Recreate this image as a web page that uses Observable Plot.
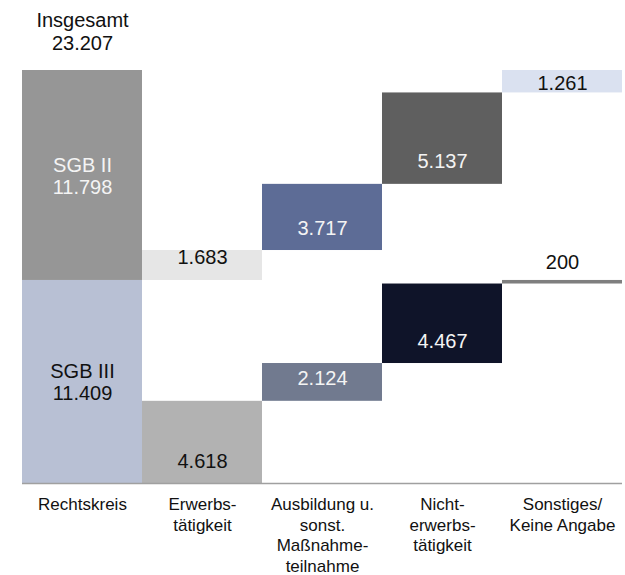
<!DOCTYPE html>
<html>
<head>
<meta charset="utf-8">
<script src="https://cdn.jsdelivr.net/npm/d3@7"></script>
<script src="https://cdn.jsdelivr.net/npm/@observablehq/plot@0.6"></script>
<style>
  html, body { margin: 0; padding: 0; background: #fff; }
  #chart svg { display: block; }
</style>
</head>
<body>
<div id="chart"></div>
<script>
// ---- data ----
const categories = ["Rechtskreis", "Erwerbstätigkeit", "Ausbildung", "Nichterwerbstätigkeit", "Sonstiges"];
const categoryLabels = ["Rechtskreis", "Erwerbs-\ntätigkeit", "Ausbildung u.\nsonst.\nMaßnahme-\nteilnahme", "Nicht-\nerwerbs-\ntätigkeit", "Sonstiges/\nKeine Angabe"];
const seriesNames = ["SGB II", "SGB III"];
const totalLabel = "Insgesamt";
const totalValue = 23207;
const sgb2Total = 11798;
const sgb3Total = 11409;
const sgb2Values = [1683, 3717, 5137, 1261];   // Erwerbs, Ausbildung, Nicht, Sonstiges
const sgb3Values = [4618, 2124, 4467, 200];

// ---- styles ----
const palette = {
  "SGB II": ["#969696", "#E6E6E6", "#5D6C96", "#5F5F5F", "#DAE1F0"],
  "SGB III": ["#B8C0D4", "#B2B2B2", "#717A8F", "#0F1429", "#7F7F7F"]
};
const textColor = {
  "SGB II": ["#F4F4F4", "#111", "#F4F4F4", "#F4F4F4", "#111"],
  "SGB III": ["#111", "#111", "#F4F4F4", "#F4F4F4", "#111"]
};
const fmt = d3.format(",d");
const de = v => fmt(v).replace(/,/g, ".");

// ---- build rows ----
const rows = [];
rows.push({cat: categories[0], series: seriesNames[1], y1: 0, y2: sgb3Total, value: sgb3Total, fill: palette["SGB III"][0], tc: textColor["SGB III"][0], kind: "center"});
rows.push({cat: categories[0], series: seriesNames[0], y1: sgb3Total, y2: sgb3Total + sgb2Total, value: sgb2Total, fill: palette["SGB II"][0], tc: textColor["SGB II"][0], kind: "center"});
const cum3 = [0, ...d3.cumsum(sgb3Values)];
const cum2 = [0, ...d3.cumsum(sgb2Values)];
sgb3Values.forEach((v, i) => rows.push({cat: categories[i + 1], series: "SGB III", y1: cum3[i], y2: cum3[i + 1], value: v, fill: palette["SGB III"][i + 1], tc: textColor["SGB III"][i + 1]}));
sgb2Values.forEach((v, i) => rows.push({cat: categories[i + 1], series: "SGB II", y1: sgb3Total + cum2[i], y2: sgb3Total + cum2[i + 1], value: v, fill: palette["SGB II"][i + 1], tc: textColor["SGB II"][i + 1]}));
rows.forEach(r => {
  if (r.kind) return;
  r.kind = r.value < 500 ? "above" : r.value < 1500 ? "small" : "base";
});

const baseRows = rows.filter(r => r.kind === "base");
const smallRows = rows.filter(r => r.kind === "small");
const aboveRows = rows.filter(r => r.kind === "above");
const centerRows = rows.filter(r => r.kind === "center");

const font = "'Liberation Sans', Arial, sans-serif";

const chart = Plot.plot({
  width: 625,
  height: 575,
  marginLeft: 22,
  marginRight: 3,
  marginTop: 70,
  marginBottom: 92,
  style: {fontFamily: font, background: "#fff"},
  x: {domain: categories, padding: 0, axis: null},
  y: {domain: [0, totalValue], axis: null},
  color: {type: "identity"},
  marks: [
    Plot.barY(rows, {x: "cat", y1: "y1", y2: "y2", fill: "fill", inset: 0}),
    Plot.ruleY([0], {stroke: "#A0A0A0", strokeWidth: 1.6}),
    // centered labels on Rechtskreis bars
    Plot.text(centerRows, {x: "cat", y: d => (d.y1 + d.y2) / 2, text: d => d.series + "\n" + de(d.value), fill: "tc", fontSize: 20, lineHeight: 1.1, lineAnchor: "middle"}),
    // inside-base labels
    Plot.text(baseRows, {x: "cat", y: "y1", text: d => de(d.value), fill: "tc", fontSize: 20, lineAnchor: "bottom", dy: -16}),
    // small bars
    Plot.text(smallRows, {x: "cat", y: "y1", text: d => de(d.value), fill: "tc", fontSize: 20, lineAnchor: "bottom", dy: -2.7}),
    // label above very thin bar
    Plot.text(aboveRows, {x: "cat", y: "y2", text: d => de(d.value), fill: "#111", fontSize: 20, lineAnchor: "bottom", dy: -11}),
    // total label
    Plot.text([{cat: categories[0], v: totalValue}], {x: "cat", y: "v", text: d => totalLabel + "\n" + de(d.v), fill: "#111", fontSize: 20, lineHeight: 1.12, lineAnchor: "bottom", dy: -21}),
    // category labels
    Plot.text(categories, {x: d => d, y: () => 0, text: (d, i) => categoryLabels[i], fill: "#111", fontSize: 17, lineHeight: 1.22, lineAnchor: "top", dy: 11.6})
  ]
});
document.getElementById("chart").appendChild(chart);
</script>
</body>
</html>
